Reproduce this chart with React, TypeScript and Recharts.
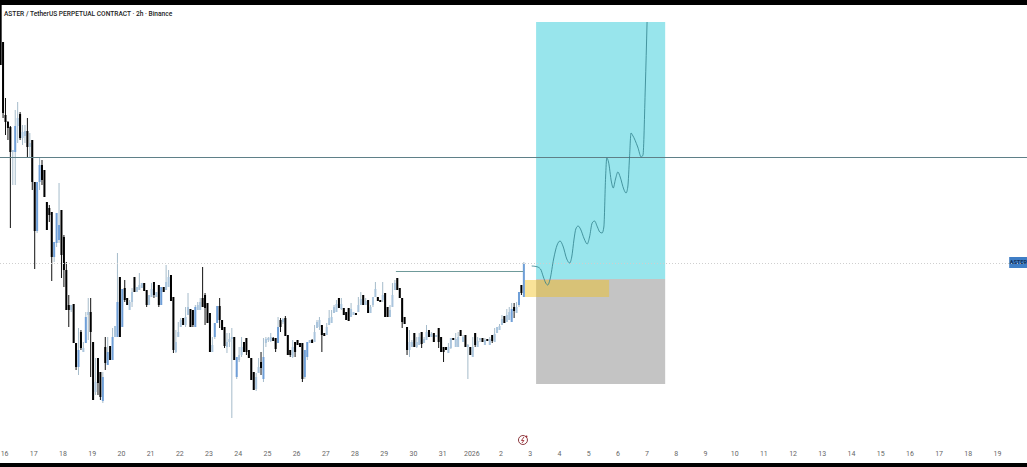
import React from "react";
import { ComposedChart, Bar, Line, XAxis, YAxis, ReferenceArea, ReferenceLine, ReferenceDot } from "recharts";

// [open, high, low, close] of each 2h candle, in chart price units
const candlesDec16: number[][] = [
  [462,462,402,402],[425,425,349,354],[352,369,332,345],[345,346,327,339],[340,341,239,315],[315,317,282,317],[315,357,282,341],[341,365,324,349],[353,355,327,329],[329,342,322,335],
  [331,342,324,336],[336,349,310,320],[320,334,310,324],[327,327,277,285],[285,285,198,236],[236,285,234,285],[285,309,277,302],[302,307,282,287],[297,297,270,270],[265,265,237,237],
  [259,262,245,252],[255,255,186,210],[210,225,205,225],[224,254,220,254],[227,284,224,242],[257,257,189,212],[230,232,180,197],[197,205,157,157],[162,172,140,157],[157,162,155,162],
  [163,163,124,124],[124,124,97,100],[100,139,92,117],[135,137,117,119],[115,125,115,119],[124,155,124,150],[152,169,127,155],[155,169,90,135],[125,125,67,67],[75,109,72,85],
  [109,109,72,84],[95,95,67,70],[66,95,64,90],[120,130,97,104],[102,130,102,115],[121,121,107,107],[107,139,107,130],[130,141,130,141],[130,214,130,165],[190,190,130,130],
  [140,178,140,178],[179,187,165,167],[169,169,162,162],[157,167,157,165],
];
const candlesDec20: number[][] = [
  [165,179,160,175],[190,190,175,175],[175,180,175,180],[177,194,177,182],[179,184,179,184],[184,184,176,176],[177,177,160,162],[162,172,162,172],[170,184,170,178],[185,185,169,172],
  [170,175,170,175],[182,182,160,162],[162,180,162,180],[180,180,175,175],[177,202,177,185],[180,197,180,190],[192,192,166,166],[170,170,114,117],[115,137,114,125],[130,145,130,135],
  [140,149,140,147],[149,149,142,142],[142,160,140,150],[152,174,152,160],[158,158,140,140],[157,157,140,142],[140,162,140,160],[157,165,157,162],[157,169,157,165],[169,200,160,160],
  [172,174,142,159],[164,164,144,144],[154,154,115,115],[115,130,115,122],[130,144,128,144],[144,161,144,161],[161,169,139,147],[147,147,137,137],[140,140,119,121],[120,134,114,125],
  [125,134,120,128],[128,139,49,130],[130,130,107,107],[90,110,88,110],[107,120,105,112],[112,130,110,120],[125,125,115,115],[129,129,112,115],[117,117,109,109],[109,109,87,87],
  [95,95,77,77],[78,94,76,90],[94,109,94,100],[105,115,92,99],
];
const candlesDec25: number[][] = [
  [88,129,85,110],[124,130,120,128],[127,130,125,129],[126,134,125,130],[129,130,126,126],[129,129,115,118],[124,150,124,140],[147,149,135,140],[145,149,143,148],[149,151,131,131],
  [132,132,112,112],[117,117,110,112],[110,127,109,120],[125,125,110,115],[127,127,122,122],[124,124,120,120],[124,124,85,88],[90,117,88,117],[110,125,107,125],[124,127,124,127],
  [127,128,124,124],[125,142,125,135],[139,147,139,145],[140,150,137,147],[142,142,115,132],[134,134,131,131],[132,144,132,140],[142,157,142,149],[144,157,144,150],[154,162,154,160],
  [155,167,155,163],[169,169,159,159],[158,169,157,163],[159,159,152,152],[155,155,147,147],[159,159,146,146],[150,164,150,158],[152,155,152,155],[154,154,152,152],[155,170,155,162],
  [162,175,162,168],[172,172,162,162],[162,169,162,166],[167,167,154,154],[154,162,154,160],[162,170,160,170],[170,185,170,178],[170,170,166,166],[167,167,165,165],[167,185,165,172],
  [174,174,150,150],[160,160,150,150],[150,162,150,157],[160,184,160,172],
];
const candlesDec29: number[][] = [
  [177,187,177,184],[189,189,177,177],[179,179,169,169],[169,169,139,145],[150,150,143,143],[140,140,112,117],[117,137,110,125],[120,127,120,125],[134,134,120,120],[120,130,119,125],
  [122,134,122,130],[135,135,119,123],[124,130,124,128],[127,142,127,135],[137,137,130,130],[130,135,130,133],[134,134,125,125],[130,132,130,132],[139,139,119,125],[130,130,115,115],
  [120,120,105,115],[120,120,117,117],[114,124,114,120],[119,129,118,129],[129,129,127,127],[120,134,120,128],[120,135,120,130],[137,137,131,131],[125,132,125,130],[132,132,120,120],
  [120,123,88,122],[120,120,112,112],[110,130,110,120],[134,134,120,122],[120,130,120,126],[127,129,125,129],[129,129,125,125],[122,129,122,127],[128,128,126,126],[122,130,122,128],
  [132,132,124,126],[125,139,125,133],[134,140,134,140],[137,143,137,141],[142,152,142,148],[151,151,144,144],[145,158,145,152],[147,160,147,155],[145,164,145,158],[160,164,149,156],
  [154,165,154,160],[162,175,160,175],[182,182,172,174],[170,205,170,203],
];

const firstCandleDay = -0.134;
const candlesPerDay = 12;

// Hand-drawn projection: [day, price]
const projection: number[][] = [
  [18.05,201],[18.2,200.5],[18.35,198],[18.45,190],[18.53,184],[18.6,182],[18.68,188],[18.8,208],[18.92,222],[19.02,226],[19.12,221],[19.25,208],[19.35,204],[19.42,210],
  [19.5,228],[19.56,238],[19.64,241],[19.72,238],[19.85,228],[19.95,223],[20.03,230],[20.12,244],[20.2,246],[20.3,240],[20.38,235],[20.46,234],[20.52,240],[20.58,290],
  [20.62,309],[20.68,305],[20.78,285],[20.84,279],[20.92,288],[21.0,295],[21.08,290],[21.2,278],[21.28,274],[21.34,280],[21.4,310],[21.45,334],[21.5,332],[21.68,320],[21.8,310],[21.86,312],[21.94,380],[22.0,445],
];

const dayLabels = ["16","17","18","19","20","21","22","23","24","25","26","27","28","29","30","31","2026","2","3","4","5","6","7","8","9","10","11","12","13","14","15","16","17","18","19"];
const dayTicks = dayLabels.map((_, i) => i);

const levelUpper = 309.5;
const levelDotted = 203.5;
const levelHigh = 195.5;
const levelHighFrom = 13.4;
const levelHighTo = 17.76;

const tradeFrom = 18.2;
const tradeTo = 22.62;
const tradeTarget = 445;
const tradeEntry = 188;
const tradeStop = 83;
const zoneFrom = 17.82;
const zoneTo = 20.7;
const zoneTop = 187;
const zoneBottom = 170;
const tagFrom = 34.4;
const tagTo = 35.01;
const tagTop = 210;
const tagBottom = 199;

const title = "ASTER / TetherUS PERPETUAL CONTRACT · 2h · Binance";

const allCandles = [...candlesDec16, ...candlesDec20, ...candlesDec25, ...candlesDec29];
const rows = allCandles.map(([o, h, l, c], i) => ({
  day: firstCandleDay + i / candlesPerDay,
  o, h, l, c,
  range: [l, h],
}));
const projectionRows = projection.map(([day, path]) => ({ day, path }));

function Candle(props: any) {
  const { x, y, width, height, payload } = props;
  if (!payload || !height) return null;
  const { o, h, l, c } = payload;
  const scale = height / (h - l);
  const up = c >= o;
  const top = y + (h - Math.max(o, c)) * scale;
  const bodyH = Math.max(1, Math.abs(o - c) * scale);
  const cx = x + width / 2;
  const upBody = Math.abs(o - c) > 12 ? "#6f9fd8" : "#aac5dd";
  return (
    <g>
      <rect x={cx - 0.5} y={y} width={1} height={height} fill={up ? "#a6bccb" : "#111111"} />
      <rect x={cx - 1} y={top} width={2} height={bodyH} fill={up ? upBody : "#000000"} />
    </g>
  );
}

function Bolt(props: any) {
  const { cx, cy } = props;
  return (
    <g>
      <circle cx={cx} cy={cy} r={4.5} fill="#fff" stroke="#8c3a40" strokeWidth={1} />
      <path d={`M${cx + 1} ${cy - 3}L${cx - 1.5} ${cy + 0.5}H${cx + 1}L${cx - 1} ${cy + 3}`} fill="none" stroke="#a03038" strokeWidth={0.9} />
      <circle cx={cx + 3.5} cy={cy - 3.5} r={1} fill="#a03038" />
    </g>
  );
}

export default function App() {
  return (
    <div style={{ position: "absolute", left: 0, top: 0, width: 1027, height: 467, background: "#000", overflow: "hidden" }}>
      <div style={{ position: "absolute", left: 0, top: 5, width: 1027, height: 458, background: "#fff" }}>
        <ComposedChart width={1027} height={458} data={rows} margin={{ top: 0, right: 0, bottom: 0, left: 0 }}>
          <XAxis
            dataKey="day"
            type="number"
            domain={[-0.1575, 35.01]}
            allowDataOverflow
            ticks={dayTicks}
            interval={0}
            tickFormatter={(v: number) => dayLabels[v]}
            axisLine={false}
            tickLine={false}
            height={18}
            tickMargin={0}
            tick={{ fontSize: 7, fill: "#666", fontFamily: "Roboto" }}
          />
          <YAxis type="number" domain={[22, 462]} hide allowDataOverflow />
          <ReferenceArea x1={tradeFrom} x2={tradeTo} y1={tradeEntry} y2={tradeTarget} fill="#98e5ec" fillOpacity={1} stroke="none" />
          <ReferenceArea x1={tradeFrom} x2={tradeTo} y1={tradeStop} y2={tradeEntry} fill="#c4c4c4" fillOpacity={1} stroke="none" />
          <ReferenceArea x1={zoneFrom} x2={zoneTo} y1={zoneBottom} y2={zoneTop} fill="#f2c21b" fillOpacity={0.45} stroke="none" />
          <ReferenceLine y={levelUpper} stroke="#5f8088" strokeWidth={1} />
          <ReferenceLine y={levelDotted} stroke="#cfcfcf" strokeWidth={1} strokeDasharray="1 2" />
          <ReferenceLine segment={[{ x: levelHighFrom, y: levelHigh }, { x: levelHighTo, y: levelHigh }]} stroke="#6f9a9a" strokeWidth={1} />
          <ReferenceArea
            x1={tagFrom}
            x2={tagTo}
            y1={tagBottom}
            y2={tagTop}
            fill="#3f7ec6"
            fillOpacity={1}
            stroke="none"
            label={{ value: "ASTER", position: "insideLeft", offset: 0.5, fontSize: 5.6, fill: "#12305a", fontFamily: "Roboto", fontWeight: 700 }}
          />
          <Bar dataKey="range" barSize={2} shape={<Candle />} isAnimationActive={false} />
          <Line data={projectionRows} dataKey="path" type="monotone" stroke="#2f7f8a" strokeWidth={0.8} dot={false} isAnimationActive={false} />
          <ReferenceDot x={17.75} y={27} shape={<Bolt />} />
        </ComposedChart>
        <div style={{ position: "absolute", left: 4, top: 5, fontFamily: "Roboto", fontWeight: 500, fontSize: 6.6, color: "#222", whiteSpace: "nowrap" }}>{title}</div>
      </div>
    </div>
  );
}
